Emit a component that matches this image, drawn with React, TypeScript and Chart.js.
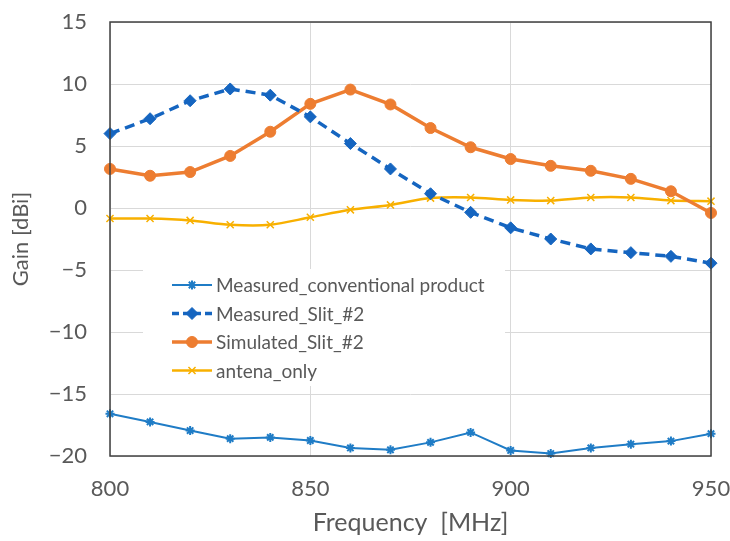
import React, { useEffect, useRef } from 'react';
import { Chart, registerables } from 'chart.js';
import { drawPoint } from 'chart.js/helpers';

Chart.register(...registerables);

const freqs = [800, 810, 820, 830, 840, 850, 860, 870, 880, 890, 900, 910, 920, 930, 940, 950];
const measuredConventional = [-16.6, -17.25, -17.95, -18.6, -18.5, -18.75, -19.35, -19.5, -18.9, -18.1, -19.55, -19.8, -19.35, -19.05, -18.8, -18.2];
const measuredSlit2 = [6.0, 7.2, 8.65, 9.6, 9.1, 7.35, 5.2, 3.15, 1.15, -0.35, -1.6, -2.5, -3.3, -3.6, -3.9, -4.45];
const simulatedSlit2 = [3.15, 2.6, 2.9, 4.2, 6.15, 8.4, 9.55, 8.35, 6.45, 4.9, 3.95, 3.4, 3.0, 2.35, 1.35, -0.4];
const antenaOnly = [-0.85, -0.85, -1.0, -1.35, -1.35, -0.75, -0.15, 0.25, 0.8, 0.85, 0.65, 0.6, 0.85, 0.85, 0.6, 0.55];

const seriesLabels = ['Measured_conventional product', 'Measured_Slit_#2', 'Simulated_Slit_#2', 'antena_only'];
const xTitle = 'Frequency  [MHz]';
const yTitle = 'Gain [dBi]';
const xMin = 800, xMax = 950, xStep = 50;
const yMin = -20, yMax = 15, yStep = 5;

const FONT = 'Lato, "Noto Sans", sans-serif';
const TEXT = '#595959';

const toXY = (vals: number[]) => vals.map((v, i) => ({ x: freqs[i], y: v }));

const boxLegend = {
  id: 'boxLegend',
  afterDatasetsDraw(chart: any) {
    const ctx = chart.ctx;
    ctx.save();
    ctx.fillStyle = '#ffffff';
    ctx.fillRect(143, 269, 362, 117);
    chart.data.datasets.forEach((ds: any, i: number) => {
      const cy = 285 + i * 28.5;
      ctx.strokeStyle = ds.borderColor;
      ctx.lineWidth = ds.borderWidth;
      ctx.setLineDash(ds.borderDash ? [7, 4] : []);
      ctx.beginPath();
      ctx.moveTo(172, cy);
      ctx.lineTo(212, cy);
      ctx.stroke();
      ctx.setLineDash([]);
      ctx.fillStyle = ds.pointBackgroundColor;
      ctx.strokeStyle = ds.pointBorderColor;
      ctx.lineWidth = ds.pointBorderWidth;
      drawPoint(ctx, { pointStyle: ds.pointStyle, rotation: 0, radius: ds.pointRadius, borderWidth: ds.pointBorderWidth }, 192, cy);
      ctx.fillStyle = TEXT;
      ctx.font = `19px ${FONT}`;
      ctx.textBaseline = 'middle';
      ctx.textAlign = 'left';
      ctx.fillText(ds.label, 216, cy + 1);
    });
    ctx.restore();
  },
};

const frame = {
  id: 'frame',
  afterDraw(chart: any) {
    const { ctx, chartArea: a } = chart;
    ctx.save();
    ctx.strokeStyle = '#404040';
    ctx.lineWidth = 1.5;
    ctx.strokeRect(a.left, a.top, a.right - a.left, a.bottom - a.top);
    ctx.restore();
  },
};

export default function App() {
  const ref = useRef<HTMLCanvasElement | null>(null);
  useEffect(() => {
    if (!ref.current) return;
    const chart = new Chart(ref.current, {
      type: 'line',
      data: {
        datasets: [
          {
            label: seriesLabels[0],
            data: toXY(measuredConventional),
            borderColor: '#1f7cc6',
            backgroundColor: '#1f7cc6',
            borderWidth: 2,
            pointStyle: 'star',
            pointRadius: 4.5,
            pointBorderWidth: 2,
            pointBorderColor: '#1f7cc6',
            pointBackgroundColor: '#1f7cc6',
            tension: 0,
            clip: false,
          },
          {
            label: seriesLabels[1],
            data: toXY(measuredSlit2),
            borderColor: '#1565c0',
            backgroundColor: '#1565c0',
            borderWidth: 3.5,
            borderDash: [10, 6],
            pointStyle: 'rectRot',
            pointRadius: 6,
            pointBorderWidth: 1,
            pointBorderColor: '#1565c0',
            pointBackgroundColor: '#1565c0',
            tension: 0,
            clip: false,
          },
          {
            label: seriesLabels[2],
            data: toXY(simulatedSlit2),
            borderColor: '#ed7d31',
            backgroundColor: '#ed7d31',
            borderWidth: 3.5,
            pointStyle: 'circle',
            pointRadius: 5.5,
            pointBorderWidth: 1,
            pointBorderColor: '#ed7d31',
            pointBackgroundColor: '#ed7d31',
            tension: 0,
            clip: false,
          },
          {
            label: seriesLabels[3],
            data: toXY(antenaOnly),
            borderColor: '#f8b000',
            backgroundColor: '#f8b000',
            borderWidth: 2.5,
            pointStyle: 'crossRot',
            pointRadius: 5,
            pointBorderWidth: 1.5,
            pointBorderColor: '#f8b000',
            pointBackgroundColor: '#f8b000',
            tension: 0.3,
            clip: false,
          },
        ],
      },
      options: {
        animation: false,
        responsive: false,
        layout: { padding: { top: 22, right: 19, left: 0, bottom: 0 } },
        plugins: {
          legend: { display: false },
          tooltip: { enabled: false },
        },
        scales: {
          x: {
            type: 'linear',
            min: xMin,
            max: xMax,
            ticks: {
              stepSize: xStep,
              color: TEXT,
              font: { family: FONT, size: 22 },
              padding: 20,
              maxRotation: 0,
            },
            grid: { color: '#d9d9d9', lineWidth: 1, drawTicks: false },
            border: { display: false },
            title: {
              display: true,
              text: xTitle,
              color: TEXT,
              font: { family: FONT, size: 25 },
              padding: { top: 0, bottom: 3 },
            },
            afterFit: (s: any) => {
              s.height = 85;
              s.paddingLeft = 0;
              s.paddingRight = 0;
            },
          },
          y: {
            type: 'linear',
            min: yMin,
            max: yMax,
            ticks: {
              stepSize: yStep,
              color: TEXT,
              font: { family: FONT, size: 22 },
              padding: 23,
              callback: (v: any) => (Number(v) < 0 ? '\u2212' + Math.abs(Number(v)) : String(v)),
            },
            grid: { color: '#d9d9d9', lineWidth: 1, drawTicks: false },
            border: { display: false },
            title: {
              display: true,
              text: yTitle,
              color: TEXT,
              font: { family: FONT, size: 22 },
              padding: { top: 8, bottom: 0 },
            },
            afterFit: (s: any) => {
              s.width = 110;
              s.paddingTop = 0;
              s.paddingBottom = 0;
            },
          },
        },
      },
      plugins: [boxLegend, frame],
    });
    return () => chart.destroy();
  }, []);

  return (
    <div style={{ position: 'fixed', left: 0, top: 0, width: 730, height: 541, background: '#fff' }}>
      <canvas ref={ref} width={730} height={541} style={{ width: 730, height: 541, display: 'block' }} />
    </div>
  );
}
